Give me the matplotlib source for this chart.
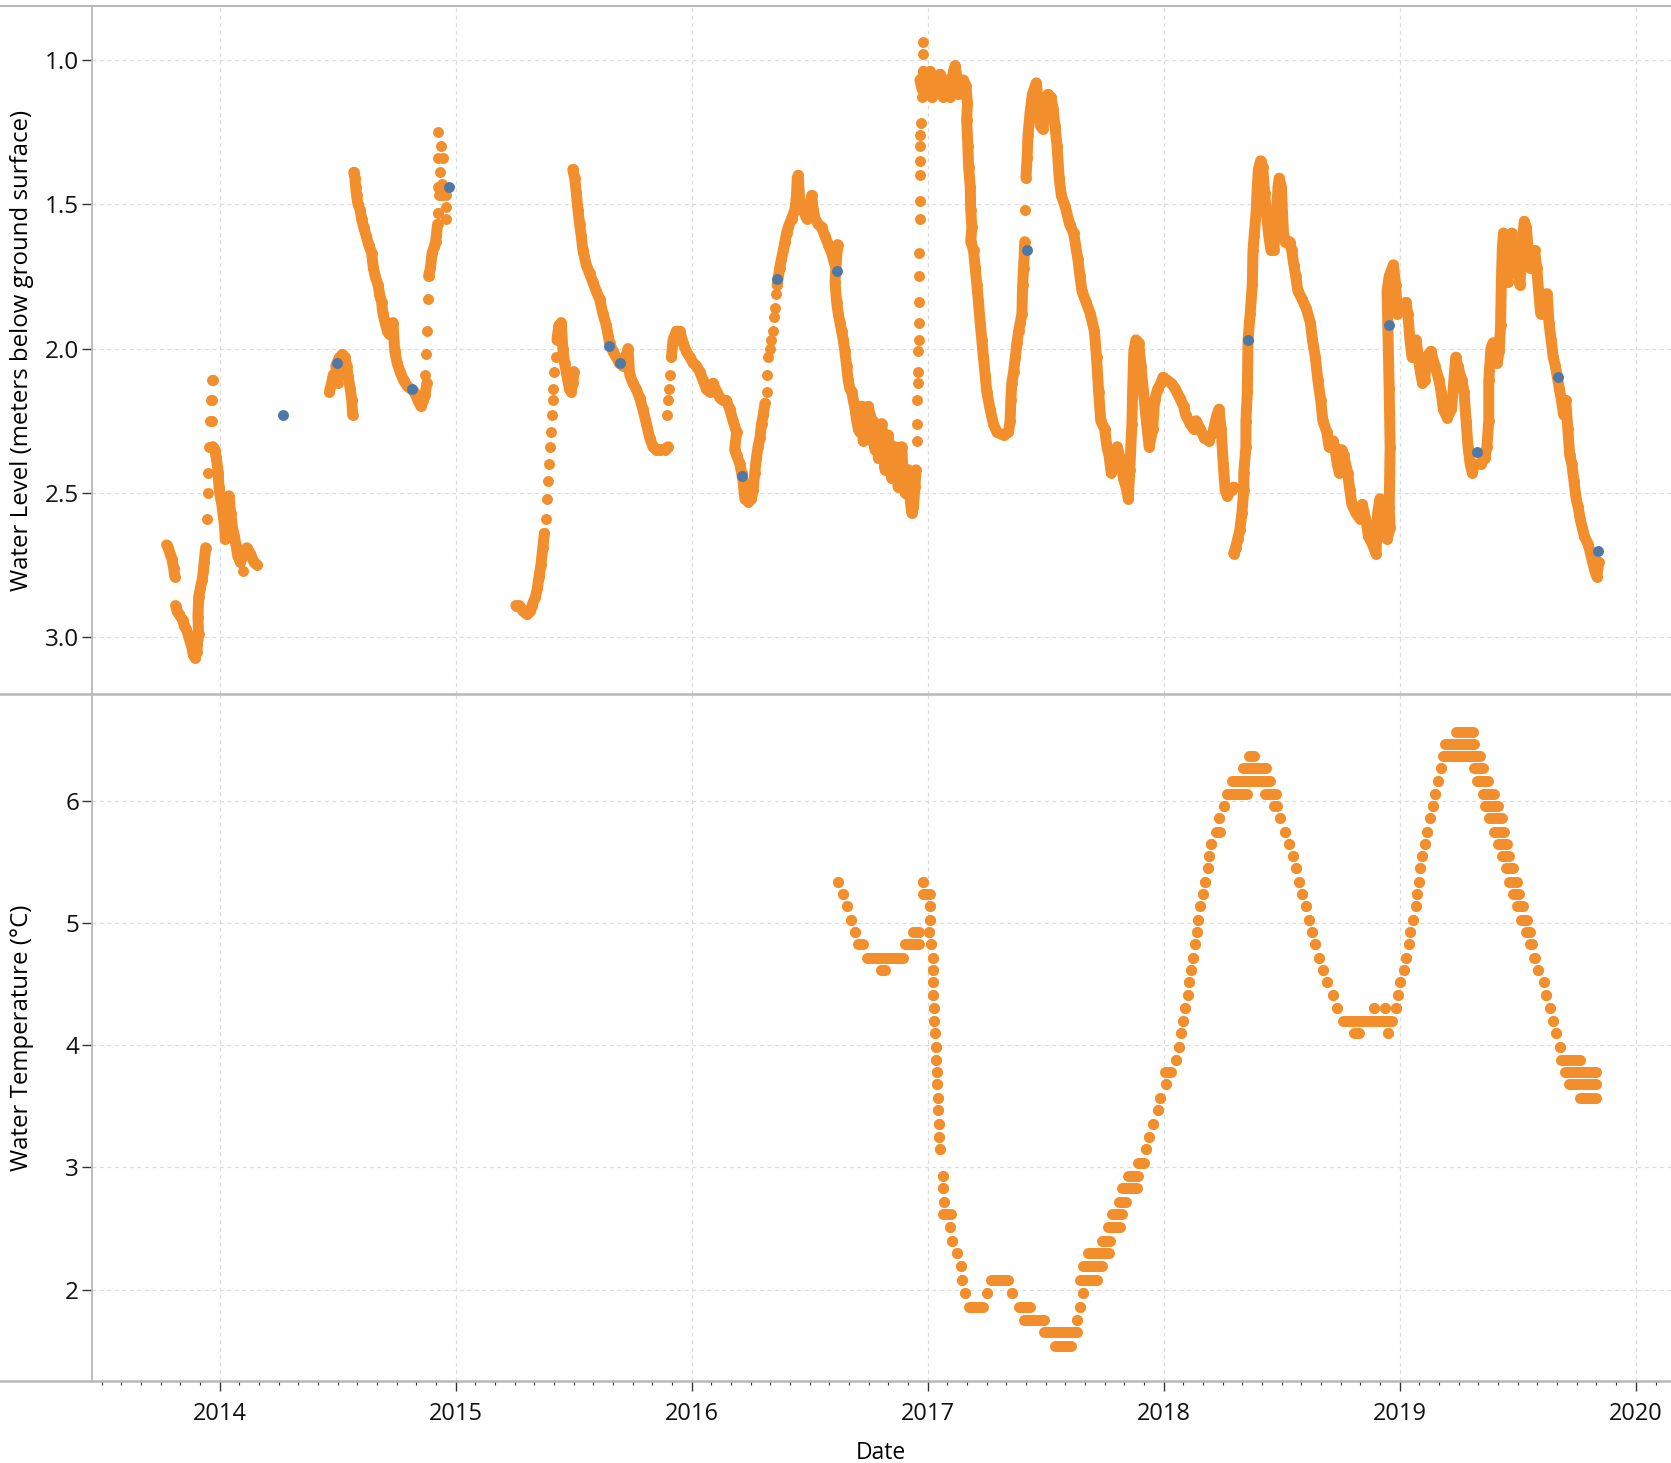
import numpy as np
import matplotlib
matplotlib.use('Agg')
import matplotlib.pyplot as plt
from matplotlib.lines import Line2D
from matplotlib.ticker import FixedLocator

# ---- water level, logger (decimal year, metres below ground surface) ----
# dense stretches are drawn as connected bands of dots
seg_2013a = [(2013.775, 2.68), (2013.782, 2.69), (2013.790, 2.71), (2013.798, 2.73), (2013.805, 2.76), (2013.810, 2.79)]
seg_2013b = [(2013.813, 2.89), (2013.820, 2.91), (2013.828, 2.92), (2013.843, 2.94), (2013.850, 2.96), (2013.858, 2.97),
             (2013.866, 2.99), (2013.873, 3.01), (2013.881, 3.03), (2013.888, 3.06), (2013.896, 3.07), (2013.903, 3.05),
             (2013.906, 3.02), (2013.911, 2.99), (2013.908, 2.93), (2013.911, 2.86), (2013.918, 2.83), (2013.926, 2.80),
             (2013.931, 2.77), (2013.934, 2.74), (2013.941, 2.69)]
seg_2014a = [(2013.971, 2.34), (2013.979, 2.35), (2013.986, 2.38), (2013.994, 2.43), (2013.997, 2.48), (2014.002, 2.51),
             (2014.009, 2.54), (2014.017, 2.59), (2014.021, 2.62), (2014.024, 2.66), (2014.032, 2.55), (2014.039, 2.51),
             (2014.047, 2.57), (2014.054, 2.62), (2014.062, 2.65), (2014.069, 2.68), (2014.077, 2.72), (2014.088, 2.74),
             (2014.107, 2.70), (2014.115, 2.69), (2014.130, 2.71), (2014.145, 2.74), (2014.160, 2.75)]
seg_2014b = [(2014.465, 2.15), (2014.474, 2.12), (2014.482, 2.09), (2014.500, 2.12), (2014.492, 2.06), (2014.508, 2.03),
             (2014.515, 2.09), (2014.520, 2.02), (2014.530, 2.03), (2014.538, 2.06), (2014.545, 2.10), (2014.553, 2.14),
             (2014.560, 2.18), (2014.563, 2.23)]
seg_2014c = [(2014.568, 1.39), (2014.573, 1.41), (2014.576, 1.44), (2014.580, 1.47), (2014.586, 1.50), (2014.595, 1.52),
             (2014.601, 1.55), (2014.610, 1.58), (2014.621, 1.61), (2014.631, 1.64), (2014.644, 1.67), (2014.651, 1.72),
             (2014.659, 1.75), (2014.671, 1.78), (2014.677, 1.81), (2014.686, 1.84), (2014.692, 1.88), (2014.701, 1.91),
             (2014.711, 1.94), (2014.719, 1.95), (2014.734, 1.91), (2014.742, 2.01), (2014.752, 2.05), (2014.764, 2.08),
             (2014.779, 2.11), (2014.795, 2.13), (2014.810, 2.14), (2014.825, 2.15), (2014.840, 2.18), (2014.852, 2.20),
             (2014.863, 2.18), (2014.870, 2.16), (2014.878, 2.12)]
seg_2014d = [(2014.885, 1.75), (2014.893, 1.72), (2014.900, 1.67), (2014.908, 1.65), (2014.915, 1.63), (2014.918, 1.61),
             (2014.923, 1.57)]
seg_2015a = [(2015.255, 2.89), (2015.270, 2.89), (2015.286, 2.91), (2015.301, 2.92), (2015.316, 2.91), (2015.323, 2.89),
             (2015.338, 2.86), (2015.346, 2.83), (2015.353, 2.79), (2015.361, 2.75), (2015.369, 2.69), (2015.376, 2.64)]
seg_2015b = [(2015.429, 1.97), (2015.437, 1.92), (2015.440, 1.94), (2015.447, 1.91), (2015.454, 2.00), (2015.461, 2.05),
             (2015.468, 2.08), (2015.475, 2.11), (2015.482, 2.14), (2015.489, 2.15), (2015.496, 2.12), (2015.501, 2.08)]
seg_2015c = [(2015.496, 1.38), (2015.504, 1.41), (2015.511, 1.46), (2015.518, 1.52), (2015.525, 1.57), (2015.532, 1.61),
             (2015.539, 1.66), (2015.553, 1.71), (2015.567, 1.74), (2015.581, 1.77), (2015.595, 1.80), (2015.610, 1.83),
             (2015.624, 1.88), (2015.638, 1.92), (2015.652, 1.98), (2015.666, 2.01), (2015.680, 2.03), (2015.694, 2.05),
             (2015.709, 2.06), (2015.730, 2.00), (2015.737, 2.09), (2015.751, 2.12), (2015.765, 2.14), (2015.779, 2.17),
             (2015.793, 2.21), (2015.808, 2.26), (2015.822, 2.31), (2015.836, 2.34), (2015.850, 2.35), (2015.864, 2.35),
             (2015.885, 2.35), (2015.900, 2.34)]
seg_2016a = [(2015.914, 2.03), (2015.921, 1.97), (2015.935, 1.94), (2015.949, 1.94), (2015.963, 1.98), (2015.977, 2.01),
             (2015.992, 2.03), (2016.006, 2.05), (2016.020, 2.06), (2016.034, 2.08), (2016.048, 2.11), (2016.062, 2.14),
             (2016.076, 2.15), (2016.091, 2.12), (2016.105, 2.15), (2016.119, 2.17), (2016.133, 2.18), (2016.147, 2.18),
             (2016.161, 2.21), (2016.175, 2.25), (2016.190, 2.29), (2016.182, 2.35), (2016.190, 2.37), (2016.204, 2.40),
             (2016.211, 2.43), (2016.218, 2.46), (2016.221, 2.49), (2016.225, 2.52), (2016.239, 2.53), (2016.253, 2.52),
             (2016.260, 2.49), (2016.267, 2.43), (2016.274, 2.38), (2016.281, 2.34), (2016.289, 2.31), (2016.296, 2.26),
             (2016.303, 2.23), (2016.310, 2.19)]
seg_2016b = [(2016.362, 1.78), (2016.373, 1.72), (2016.380, 1.69), (2016.388, 1.66), (2016.395, 1.63), (2016.402, 1.60),
             (2016.409, 1.58), (2016.423, 1.55), (2016.437, 1.52), (2016.444, 1.47), (2016.447, 1.41), (2016.451, 1.40),
             (2016.458, 1.49), (2016.472, 1.52), (2016.487, 1.55), (2016.501, 1.52), (2016.508, 1.47), (2016.515, 1.52),
             (2016.522, 1.55), (2016.536, 1.57), (2016.550, 1.58), (2016.564, 1.61), (2016.579, 1.64), (2016.593, 1.67),
             (2016.607, 1.71), (2016.618, 1.64), (2016.607, 1.77), (2016.614, 1.84), (2016.621, 1.88), (2016.628, 1.91),
             (2016.635, 1.94), (2016.642, 1.97), (2016.649, 2.01), (2016.656, 2.06), (2016.663, 2.11), (2016.670, 2.14),
             (2016.678, 2.15), (2016.685, 2.18), (2016.692, 2.21), (2016.699, 2.25), (2016.706, 2.28), (2016.713, 2.29),
             (2016.720, 2.20), (2016.727, 2.32), (2016.734, 2.22), (2016.741, 2.28), (2016.748, 2.20), (2016.755, 2.23),
             (2016.762, 2.32), (2016.769, 2.25), (2016.776, 2.35), (2016.784, 2.28), (2016.791, 2.38), (2016.798, 2.31),
             (2016.805, 2.26), (2016.812, 2.34), (2016.819, 2.42), (2016.826, 2.35), (2016.833, 2.30), (2016.840, 2.38),
             (2016.847, 2.45), (2016.854, 2.42), (2016.861, 2.34), (2016.868, 2.43), (2016.875, 2.48), (2016.883, 2.40),
             (2016.890, 2.34), (2016.897, 2.46), (2016.904, 2.50), (2016.911, 2.49), (2016.918, 2.42), (2016.925, 2.52),
             (2016.932, 2.57), (2016.939, 2.55), (2016.946, 2.48), (2016.950, 2.42)]
seg_2017a = [(2016.967, 1.07), (2016.975, 1.10), (2016.982, 1.04), (2016.989, 1.12), (2016.996, 1.06), (2017.003, 1.10),
             (2017.010, 1.04), (2017.017, 1.13), (2017.024, 1.07), (2017.038, 1.11), (2017.052, 1.05), (2017.066, 1.13),
             (2017.081, 1.07), (2017.095, 1.13), (2017.109, 1.04), (2017.116, 1.02), (2017.123, 1.06), (2017.130, 1.12),
             (2017.137, 1.07), (2017.144, 1.10), (2017.151, 1.07), (2017.162, 1.09), (2017.168, 1.15), (2017.165, 1.21),
             (2017.170, 1.30), (2017.173, 1.37), (2017.180, 1.44), (2017.182, 1.52), (2017.187, 1.58), (2017.182, 1.63),
             (2017.194, 1.66), (2017.201, 1.72), (2017.208, 1.78), (2017.215, 1.84), (2017.222, 1.91), (2017.229, 1.97),
             (2017.236, 2.03), (2017.243, 2.09), (2017.250, 2.15), (2017.264, 2.21), (2017.278, 2.26), (2017.293, 2.29),
             (2017.321, 2.30), (2017.342, 2.29), (2017.349, 2.25), (2017.352, 2.18), (2017.356, 2.12), (2017.364, 2.08),
             (2017.371, 2.03), (2017.378, 1.98), (2017.385, 1.94), (2017.392, 1.91), (2017.399, 1.88), (2017.402, 1.78),
             (2017.406, 1.72), (2017.411, 1.63)]
seg_2017b = [(2017.416, 1.41), (2017.421, 1.34), (2017.425, 1.26), (2017.434, 1.18), (2017.443, 1.12), (2017.460, 1.08),
             (2017.469, 1.15), (2017.478, 1.23), (2017.487, 1.24), (2017.495, 1.20), (2017.509, 1.12), (2017.522, 1.13),
             (2017.531, 1.17), (2017.539, 1.23), (2017.548, 1.30), (2017.557, 1.41), (2017.566, 1.47), (2017.583, 1.51),
             (2017.601, 1.57), (2017.618, 1.60), (2017.636, 1.69), (2017.645, 1.75), (2017.653, 1.80), (2017.671, 1.84),
             (2017.689, 1.88), (2017.706, 1.94), (2017.715, 2.03), (2017.724, 2.15), (2017.733, 2.25), (2017.750, 2.28),
             (2017.759, 2.34), (2017.768, 2.37), (2017.777, 2.43), (2017.794, 2.40), (2017.803, 2.34), (2017.821, 2.40),
             (2017.829, 2.45), (2017.843, 2.49), (2017.850, 2.52), (2017.856, 2.42), (2017.865, 2.26), (2017.868, 2.15),
             (2017.873, 2.01), (2017.882, 1.97), (2017.894, 1.98), (2017.903, 2.06), (2017.914, 2.15), (2017.926, 2.25),
             (2017.938, 2.34), (2017.953, 2.28), (2017.961, 2.18), (2017.974, 2.14), (2017.988, 2.12), (2017.996, 2.10),
             (2018.014, 2.11), (2018.032, 2.12), (2018.049, 2.14), (2018.067, 2.17), (2018.084, 2.20), (2018.093, 2.23),
             (2018.111, 2.26), (2018.128, 2.28), (2018.137, 2.25), (2018.155, 2.28), (2018.172, 2.31), (2018.190, 2.32),
             (2018.208, 2.29), (2018.225, 2.23), (2018.234, 2.21), (2018.243, 2.28), (2018.252, 2.40), (2018.260, 2.49),
             (2018.269, 2.51), (2018.287, 2.49), (2018.296, 2.48)]
seg_2018 = [(2018.296, 2.71), (2018.304, 2.69), (2018.313, 2.66), (2018.322, 2.63), (2018.331, 2.57), (2018.339, 2.49),
            (2018.339, 2.43), (2018.348, 2.34), (2018.348, 2.25), (2018.354, 2.15), (2018.357, 1.97), (2018.366, 1.88),
            (2018.375, 1.78), (2018.378, 1.66), (2018.383, 1.61), (2018.392, 1.52), (2018.396, 1.44), (2018.401, 1.38),
            (2018.410, 1.35), (2018.419, 1.37), (2018.427, 1.46), (2018.436, 1.54), (2018.445, 1.61), (2018.454, 1.66),
            (2018.466, 1.66), (2018.477, 1.54), (2018.484, 1.44), (2018.489, 1.41), (2018.498, 1.44), (2018.507, 1.60),
            (2018.515, 1.63), (2018.533, 1.63), (2018.542, 1.66), (2018.551, 1.71), (2018.559, 1.75), (2018.568, 1.80),
            (2018.586, 1.83), (2018.603, 1.86), (2018.621, 1.91), (2018.630, 1.97), (2018.642, 2.03), (2018.653, 2.11),
            (2018.665, 2.18), (2018.674, 2.25), (2018.691, 2.29), (2018.700, 2.34), (2018.718, 2.32), (2018.726, 2.35),
            (2018.735, 2.40), (2018.744, 2.43), (2018.753, 2.35), (2018.762, 2.37), (2018.779, 2.43), (2018.788, 2.49),
            (2018.797, 2.54), (2018.814, 2.57), (2018.832, 2.59), (2018.841, 2.54), (2018.858, 2.60), (2018.867, 2.65),
            (2018.885, 2.68), (2018.899, 2.71), (2018.906, 2.57), (2018.916, 2.52), (2018.929, 2.59), (2018.938, 2.63),
            (2018.946, 2.66), (2018.959, 2.62), (2018.955, 2.55), (2018.959, 2.34), (2018.955, 2.14), (2018.946, 1.80),
            (2018.955, 1.75), (2018.973, 1.71), (2018.982, 1.78), (2018.990, 1.88), (2019.008, 1.86), (2019.026, 1.84),
            (2019.034, 1.88), (2019.043, 1.97), (2019.052, 2.03), (2019.061, 2.00), (2019.069, 1.97), (2019.078, 2.03),
            (2019.087, 2.08), (2019.096, 2.12), (2019.105, 2.11), (2019.113, 2.03), (2019.131, 2.01), (2019.149, 2.06),
            (2019.166, 2.11), (2019.175, 2.15), (2019.184, 2.21), (2019.201, 2.24), (2019.219, 2.21), (2019.237, 2.03),
            (2019.245, 2.06), (2019.263, 2.11), (2019.272, 2.15), (2019.281, 2.25), (2019.289, 2.34), (2019.298, 2.40),
            (2019.307, 2.43), (2019.316, 2.40), (2019.342, 2.40), (2019.360, 2.38), (2019.369, 2.34), (2019.377, 2.25),
            (2019.377, 2.11), (2019.386, 2.00), (2019.395, 1.98), (2019.412, 2.05), (2019.421, 2.01), (2019.427, 1.92),
            (2019.430, 1.78), (2019.434, 1.66), (2019.439, 1.60), (2019.448, 1.69), (2019.457, 1.77), (2019.465, 1.69),
            (2019.474, 1.60), (2019.483, 1.69), (2019.500, 1.72), (2019.509, 1.78), (2019.518, 1.66), (2019.527, 1.56),
            (2019.536, 1.58), (2019.544, 1.66), (2019.553, 1.72), (2019.571, 1.66), (2019.580, 1.72), (2019.588, 1.80),
            (2019.597, 1.88), (2019.606, 1.84), (2019.624, 1.81), (2019.632, 1.91), (2019.641, 1.97), (2019.650, 2.03),
            (2019.659, 2.06), (2019.676, 2.14), (2019.685, 2.18), (2019.694, 2.23), (2019.703, 2.18), (2019.712, 2.28),
            (2019.720, 2.37), (2019.729, 2.40), (2019.738, 2.46), (2019.747, 2.52), (2019.756, 2.55), (2019.764, 2.59),
            (2019.773, 2.62), (2019.782, 2.65), (2019.799, 2.68), (2019.808, 2.71), (2019.817, 2.74), (2019.826, 2.77),
            (2019.835, 2.79), (2019.843, 2.74)]

level_segments = [seg_2013a, seg_2013b, seg_2014a, seg_2014b, seg_2014c, seg_2014d, seg_2015a, seg_2015b,
                  seg_2015c, seg_2016a, seg_2016b, seg_2017a, seg_2017b, seg_2018]

# single daily readings where the level changed fast
level_sparse = [(2013.946, 2.59), (2013.949, 2.50), (2013.952, 2.43), (2013.953, 2.34), (2013.958, 2.25),
                (2013.967, 2.25), (2013.962, 2.18), (2013.968, 2.18), (2013.966, 2.11), (2013.970, 2.11),
                (2014.097, 2.77), (2014.870, 2.09), (2014.875, 2.02), (2014.878, 1.94), (2014.881, 1.83),
                (2014.927, 1.53), (2014.931, 1.47), (2014.934, 1.44), (2014.927, 1.25), (2014.938, 1.30),
                (2014.923, 1.34), (2014.946, 1.34), (2014.934, 1.39), (2014.943, 1.43), (2014.923, 1.44),
                (2014.943, 1.47), (2014.961, 1.47), (2014.961, 1.51), (2014.961, 1.55), (2014.923, 1.53),
                (2015.381, 2.59), (2015.387, 2.52), (2015.391, 2.46), (2015.394, 2.40), (2015.399, 2.34),
                (2015.402, 2.29), (2015.406, 2.23), (2015.411, 2.18), (2015.414, 2.14), (2015.418, 2.08),
                (2015.423, 2.03), (2015.897, 2.23), (2015.900, 2.18), (2015.904, 2.14), (2015.907, 2.09),
                (2016.317, 2.15), (2016.317, 2.09), (2016.324, 2.03), (2016.331, 2.00), (2016.338, 1.97),
                (2016.345, 1.94), (2016.349, 1.89), (2016.352, 1.86), (2016.356, 1.81),
                (2016.953, 2.32), (2016.953, 2.26), (2016.956, 2.18), (2016.958, 2.12), (2016.960, 2.08),
                (2016.960, 2.01), (2016.962, 1.97), (2016.965, 1.91), (2016.965, 1.84), (2016.963, 1.75),
                (2016.965, 1.67), (2016.967, 1.55), (2016.967, 1.49), (2016.967, 1.40), (2016.967, 1.35),
                (2016.969, 1.30), (2016.969, 1.26), (2016.970, 1.22), (2016.975, 1.13), (2016.979, 0.98),
                (2016.979, 0.94), (2017.413, 1.52)]

# manual (hand) measurements
manual_date = [2014.270, 2014.497, 2014.814, 2014.973, 2015.649, 2015.697, 2016.214, 2016.362,
               2016.614, 2017.420, 2018.357, 2018.955, 2019.325, 2019.671, 2019.840]
manual_m = [2.23, 2.05, 2.14, 1.44, 1.99, 2.05, 2.44, 1.76, 1.73, 1.66, 1.97, 1.92, 2.36, 2.10, 2.70]

# ---- water temperature: runs of equal readings (first date, last date, degC) ----
temp_start = [2016.621, 2016.640, 2016.656, 2016.673, 2016.692, 2016.703, 2016.744, 2016.802, 2016.904, 2016.939,
              2016.979, 2016.979, 2017.009, 2017.009, 2017.005, 2017.014, 2017.021, 2017.021, 2017.024, 2017.024,
              2017.026, 2017.028, 2017.031, 2017.033, 2017.035, 2017.038, 2017.040, 2017.042, 2017.045, 2017.047,
              2017.049, 2017.054, 2017.064, 2017.066, 2017.068, 2017.066, 2017.096, 2017.104, 2017.122, 2017.139,
              2017.146, 2017.158, 2017.174, 2017.249, 2017.268, 2017.358, 2017.386, 2017.409, 2017.492, 2017.539,
              2017.633, 2017.645, 2017.656, 2017.645, 2017.656, 2017.680, 2017.739, 2017.762, 2017.779, 2017.809,
              2017.821, 2017.849, 2017.892, 2017.925, 2017.939, 2017.955, 2017.974, 2017.986, 2018.009, 2018.005,
              2018.052, 2018.064, 2018.071, 2018.080, 2018.092, 2018.104, 2018.108, 2018.115, 2018.122, 2018.132,
              2018.139, 2018.146, 2018.155, 2018.167, 2018.174, 2018.186, 2018.193, 2018.202, 2018.220, 2018.233,
              2018.256, 2018.268, 2018.287, 2018.334, 2018.362, 2018.428, 2018.468, 2018.492, 2018.515, 2018.532,
              2018.546, 2018.562, 2018.574, 2018.586, 2018.602, 2018.616, 2018.628, 2018.640, 2018.656, 2018.673,
              2018.692, 2018.715, 2018.734, 2018.758, 2018.805, 2018.951, 2018.892, 2018.939, 2018.986, 2018.993,
              2019.002, 2019.016, 2019.028, 2019.038, 2019.045, 2019.056, 2019.068, 2019.073, 2019.080, 2019.087,
              2019.096, 2019.108, 2019.115, 2019.127, 2019.139, 2019.151, 2019.162, 2019.174, 2019.181, 2019.193,
              2019.238, 2019.315, 2019.327, 2019.351, 2019.362, 2019.379, 2019.398, 2019.416, 2019.433, 2019.449,
              2019.464, 2019.480, 2019.496, 2019.515, 2019.534, 2019.551, 2019.567, 2019.586, 2019.609, 2019.621,
              2019.638, 2019.649, 2019.661, 2019.680, 2019.685, 2019.699, 2019.715, 2019.762]
temp_end = [2016.621, 2016.640, 2016.656, 2016.673, 2016.692, 2016.727, 2016.896, 2016.821, 2016.962, 2016.962,
            2016.979, 2017.009, 2017.009, 2017.009, 2017.005, 2017.014, 2017.021, 2017.021, 2017.024, 2017.024,
            2017.026, 2017.028, 2017.031, 2017.033, 2017.035, 2017.038, 2017.040, 2017.042, 2017.045, 2017.047,
            2017.049, 2017.054, 2017.064, 2017.066, 2017.068, 2017.099, 2017.096, 2017.104, 2017.122, 2017.139,
            2017.146, 2017.158, 2017.233, 2017.249, 2017.339, 2017.358, 2017.433, 2017.492, 2017.633, 2017.609,
            2017.633, 2017.645, 2017.656, 2017.715, 2017.739, 2017.769, 2017.774, 2017.816, 2017.821, 2017.840,
            2017.887, 2017.892, 2017.915, 2017.925, 2017.939, 2017.955, 2017.974, 2017.986, 2018.009, 2018.030,
            2018.052, 2018.064, 2018.071, 2018.080, 2018.092, 2018.104, 2018.108, 2018.115, 2018.122, 2018.132,
            2018.139, 2018.146, 2018.155, 2018.167, 2018.174, 2018.186, 2018.193, 2018.202, 2018.240, 2018.233,
            2018.256, 2018.351, 2018.452, 2018.433, 2018.381, 2018.475, 2018.480, 2018.492, 2018.515, 2018.532,
            2018.546, 2018.562, 2018.574, 2018.586, 2018.602, 2018.616, 2018.628, 2018.640, 2018.656, 2018.673,
            2018.692, 2018.715, 2018.734, 2018.969, 2018.828, 2018.951, 2018.892, 2018.939, 2018.986, 2018.993,
            2019.002, 2019.016, 2019.028, 2019.038, 2019.045, 2019.056, 2019.068, 2019.073, 2019.080, 2019.087,
            2019.096, 2019.108, 2019.115, 2019.127, 2019.139, 2019.151, 2019.162, 2019.174, 2019.339, 2019.315,
            2019.308, 2019.351, 2019.374, 2019.398, 2019.416, 2019.433, 2019.440, 2019.456, 2019.464, 2019.480,
            2019.496, 2019.504, 2019.520, 2019.539, 2019.551, 2019.562, 2019.574, 2019.586, 2019.609, 2019.621,
            2019.638, 2019.649, 2019.661, 2019.680, 2019.762, 2019.833, 2019.833, 2019.833]
temp_c = [5.34, 5.24, 5.14, 5.03, 4.93, 4.83, 4.72, 4.62, 4.83, 4.93,
          5.34, 5.24, 5.14, 5.03, 4.93, 4.83, 4.72, 4.62, 4.52, 4.41,
          4.31, 4.20, 4.10, 3.99, 3.88, 3.78, 3.68, 3.57, 3.47, 3.36,
          3.25, 3.15, 2.93, 2.83, 2.72, 2.62, 2.51, 2.40, 2.30, 2.19,
          2.08, 1.97, 1.86, 1.97, 2.08, 1.97, 1.86, 1.75, 1.65, 1.54,
          1.75, 1.86, 1.97, 2.08, 2.19, 2.30, 2.40, 2.51, 2.62, 2.72,
          2.83, 2.93, 3.04, 3.15, 3.25, 3.36, 3.47, 3.57, 3.68, 3.78,
          3.88, 3.99, 4.10, 4.20, 4.31, 4.41, 4.52, 4.62, 4.72, 4.83,
          4.93, 5.03, 5.14, 5.24, 5.34, 5.45, 5.55, 5.65, 5.75, 5.86,
          5.96, 6.06, 6.17, 6.27, 6.37, 6.06, 5.96, 5.86, 5.75, 5.65,
          5.55, 5.45, 5.34, 5.24, 5.14, 5.03, 4.93, 4.83, 4.72, 4.62,
          4.52, 4.41, 4.31, 4.20, 4.10, 4.10, 4.31, 4.31, 4.31, 4.41,
          4.52, 4.62, 4.72, 4.83, 4.93, 5.03, 5.14, 5.24, 5.34, 5.45,
          5.55, 5.65, 5.75, 5.86, 5.96, 6.06, 6.17, 6.27, 6.37, 6.47,
          6.57, 6.27, 6.17, 6.06, 5.96, 5.86, 5.75, 5.65, 5.55, 5.45,
          5.34, 5.24, 5.14, 5.03, 4.93, 4.83, 4.72, 4.62, 4.52, 4.41,
          4.31, 4.20, 4.10, 3.99, 3.88, 3.78, 3.68, 3.57]

ORANGE = '#F28E2B'
BLUE = '#4E79A7'
GRID = '#dcdcdc'
FRAME = '#b8b8b8'
DOT = 62          # marker area (pt^2)
BAND = 7.9        # line width matching the dot diameter

plt.rcParams['font.family'] = ['Open Sans', 'DejaVu Sans']

fig = plt.figure(figsize=(16.71, 14.63), dpi=100)
ax1 = fig.add_axes([0.0549, 0.5257, 0.9451, 0.4692])
ax2 = fig.add_axes([0.0549, 0.0560, 0.9451, 0.4697], sharex=ax1)

# top: water level
for seg in level_segments:
    xs, ys = zip(*seg)
    ax1.plot(xs, ys, color=ORANGE, lw=BAND, solid_capstyle='round', solid_joinstyle='round', zorder=3)
    ax1.scatter(xs, ys, s=DOT, color=ORANGE, linewidths=0, zorder=3)
sx, sy = zip(*level_sparse)
ax1.scatter(sx, sy, s=DOT, color=ORANGE, linewidths=0, zorder=3)
ax1.scatter(manual_date, manual_m, s=DOT, color=BLUE, linewidths=0, zorder=4)

ax1.set_ylim(3.196, 0.819)
ax1.set_yticks([1.0, 1.5, 2.0, 2.5, 3.0])
ax1.set_yticklabels(['1.0', '1.5', '2.0', '2.5', '3.0'])
ax1.set_ylabel('Water Level (meters below ground surface)', fontsize=17.3)

# bottom: water temperature
ax2.hlines(temp_c, temp_start, temp_end, color=ORANGE, lw=BAND, zorder=3)
ax2.scatter(temp_start, temp_c, s=DOT, color=ORANGE, linewidths=0, zorder=3)
ax2.scatter(temp_end, temp_c, s=DOT, color=ORANGE, linewidths=0, zorder=3)
ax2.set_ylim(1.25, 6.88)
ax2.set_yticks([2, 3, 4, 5, 6])
ax2.set_ylabel('Water Temperature (°C)', fontsize=17.3)

ax2.set_xlim(2013.458, 2020.149)
ax2.set_xticks(range(2014, 2021))
ax2.set_xticklabels([str(y) for y in range(2014, 2021)])
ax2.xaxis.set_minor_locator(FixedLocator(np.arange(2013.5, 2020.15, 1 / 12)))
ax2.set_xlabel('Date', fontsize=16.5)
ax2.xaxis.set_label_coords(0.5, -0.087)

for ax in (ax1, ax2):
    ax.grid(True, color=GRID, lw=0.9, ls=(0, (3, 3)), zorder=0)
    ax.set_axisbelow(True)
    for side in ('top', 'right', 'bottom'):
        ax.spines[side].set_visible(False)
    ax.spines['left'].set_color(FRAME)
    ax.spines['left'].set_linewidth(1.3)
    ax.tick_params(axis='y', labelsize=17.5, length=7, width=1, color='#333333', pad=2, labelcolor='#111111')
    ax.yaxis.set_label_coords(-0.0365, 0.5)
ax1.tick_params(axis='x', which='both', bottom=False, labelbottom=False)
ax2.tick_params(axis='x', which='major', labelsize=17, length=7, width=1, color='#333333', pad=8, labelcolor='#111111')
ax2.tick_params(axis='x', which='minor', length=3, width=0.8, color='#333333')

# full-width frame lines (top, between panels, bottom)
for yf, lw in ((1 - 6 / 1463, 1.5), (1 - 694 / 1463, 1.8), (1 - 1381 / 1463, 1.8)):
    fig.add_artist(Line2D([0, 1], [yf, yf], transform=fig.transFigure, color=FRAME, lw=lw))

fig.savefig('out.png', dpi=100)
